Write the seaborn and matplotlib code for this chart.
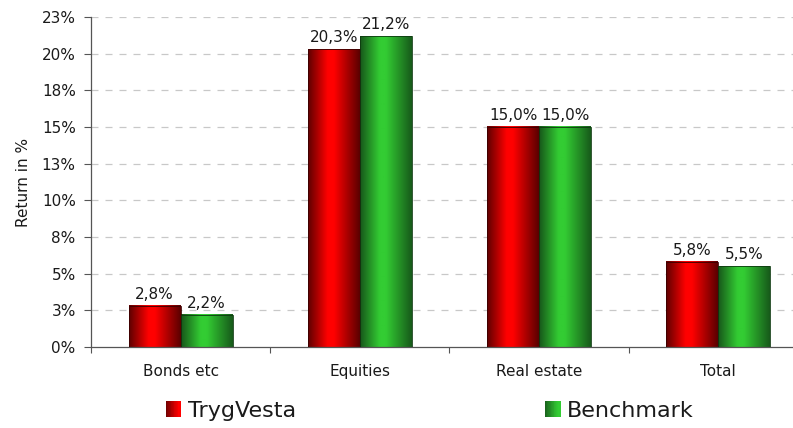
import numpy as np
import pandas as pd
import matplotlib
matplotlib.use("Agg")
import matplotlib.pyplot as plt
import seaborn as sns
from matplotlib.colors import LinearSegmentedColormap
from matplotlib.legend_handler import HandlerBase
from matplotlib.patches import Rectangle, Patch

# ---- data -------------------------------------------------------------
categories = ["Bonds etc", "Equities", "Real estate", "Total"]
series_names = ["TrygVesta", "Benchmark"]
trygvesta = [2.8, 20.3, 15.0, 5.8]
benchmark = [2.2, 21.2, 15.0, 5.5]
ytick_values = [0, 2.5, 5, 7.5, 10, 12.5, 15, 17.5, 20, 22.5]
ytick_labels = ["0%", "3%", "5%", "8%", "10%", "13%", "15%", "18%", "20%", "23%"]
y_label = "Return in %"

df = pd.DataFrame({
    "category": categories * 2,
    "series": [series_names[0]] * len(categories) + [series_names[1]] * len(categories),
    "value": trygvesta + benchmark,
})

# ---- styling ----------------------------------------------------------
sns.set_theme(style="white")
plt.rcParams["font.family"] = ["DejaVu Sans"]
text_color = "#1a1a1a"

red_cmap = LinearSegmentedColormap.from_list(
    "cyl_red", [(0.0, "#5e0000"), (0.38, "#ff0000"), (0.5, "#ff0000"), (1.0, "#5a0000")])
green_cmap = LinearSegmentedColormap.from_list(
    "cyl_green", [(0.0, "#17561a"), (0.38, "#33cc33"), (0.5, "#33cc33"), (1.0, "#175a1a")])
cmaps = [red_cmap, green_cmap]

fig = plt.figure(figsize=(7.93, 4.28), dpi=100)
ax = fig.add_axes([91 / 793, 1 - 347 / 428, 717 / 793, 330 / 428])
ax.patch.set_edgecolor("none")

sns.barplot(data=df, x="category", y="value", hue="series", order=categories,
            hue_order=series_names, palette=["#ff0000", "#33cc33"],
            width=0.58, saturation=1, legend=False, ax=ax)

# cylinder-like gradient fill on each bar
grad = np.linspace(0, 1, 256).reshape(1, -1)
for container, cmap, vals in zip(ax.containers, cmaps, [trygvesta, benchmark]):
    for bar in container:
        x0, y0 = bar.get_x(), bar.get_y()
        w, h = bar.get_width(), bar.get_height()
        ax.imshow(grad, cmap=cmap, aspect="auto", extent=(x0, x0 + w, y0, y0 + h),
                  zorder=2, interpolation="bilinear")
        bar.set_facecolor("none")
        bar.set_edgecolor("#3a0000" if cmap is red_cmap else "#0e3a10")
        bar.set_linewidth(0.6)
        bar.set_zorder(3)
    ax.bar_label(container,
                 labels=[f"{v:.1f}".replace(".", ",") + "%" for v in vals],
                 padding=3, fontsize=11, color=text_color)

ax.set_xlim(-0.5, 3.5)
ax.set_ylim(0, 22.5)
ax.set_yticks(ytick_values)
ax.set_yticklabels(ytick_labels)

# dashed horizontal gridlines
ax.set_axisbelow(True)
for yv in ytick_values[1:]:
    ax.axhline(yv, color="#c8c8c8", lw=0.9, dashes=(5.6, 5.6), zorder=0)

# spines and ticks
for s in ["top", "right"]:
    ax.spines[s].set_visible(False)
ax.spines["left"].set_color("#555555")
ax.spines["left"].set_linewidth(0.9)
ax.spines["bottom"].set_color("#555555")
ax.spines["bottom"].set_linewidth(0.9)

ax.tick_params(axis="y", which="major", direction="out", length=5, width=0.8,
               color="#555555", pad=6, labelsize=11, labelcolor=text_color, left=True)
ax.tick_params(axis="x", which="major", length=0, pad=12, labelsize=11,
               labelcolor=text_color)
ax.set_xticks([-0.5, 0.5, 1.5, 2.5, 3.5], minor=True)
ax.tick_params(axis="x", which="minor", direction="out", length=4, width=0.8,
               color="#555555", bottom=True)

ax.set_xlabel("")
ax.set_ylabel(y_label, fontsize=11, color=text_color, labelpad=8)


# gradient squares for the legend
class GradientHandler(HandlerBase):
    def __init__(self, cmap):
        super().__init__()
        self.cmap = cmap

    def create_artists(self, legend, orig_handle, xdescent, ydescent, width,
                       height, fontsize, trans):
        side = min(width, height)
        x0 = -xdescent + (width - side) / 2
        y0 = -ydescent + (height - side) / 2
        n = 20
        artists = []
        for i in range(n):
            c = self.cmap(0.05 + 0.4 * i / (n - 1))
            r = Rectangle((x0 + side * i / n, y0), side / n * 1.05, side,
                          facecolor=c, edgecolor="none", transform=trans)
            artists.append(r)
        return artists


handles = [Patch(label=series_names[0]), Patch(label=series_names[1])]
fig.legend(handles=handles, labels=series_names, loc="center",
           bbox_to_anchor=(430 / 793, 1 - 411 / 428), ncol=2, frameon=False,
           fontsize=16, handlelength=0.7, handleheight=0.7, handletextpad=0.3,
           columnspacing=11.2, labelcolor=text_color,
           handler_map={handles[0]: GradientHandler(red_cmap),
                        handles[1]: GradientHandler(green_cmap)})

fig.savefig("out.png", dpi=100)
